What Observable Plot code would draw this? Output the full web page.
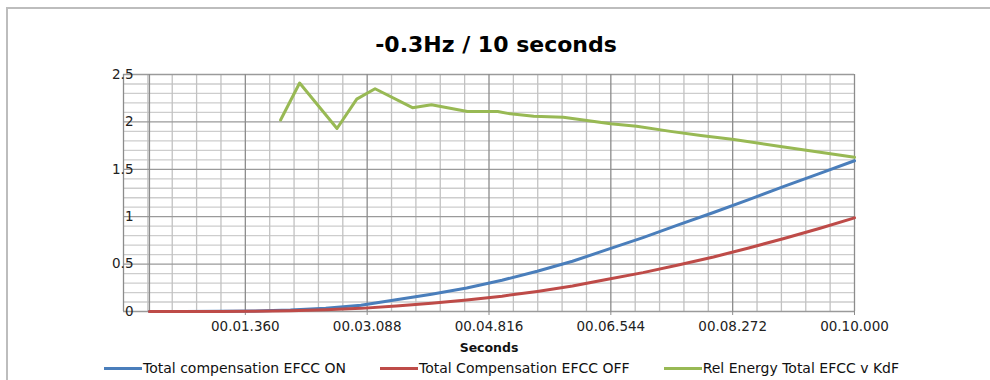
<!DOCTYPE html>
<html>
<head>
<meta charset="utf-8">
<script src="https://cdn.jsdelivr.net/npm/d3@7"></script>
<script src="https://cdn.jsdelivr.net/npm/@observablehq/plot@0.6"></script>
<style>
  html, body { margin: 0; padding: 0; background: #fff; overflow: hidden; }
  body { width: 990px; height: 380px; position: relative; font-family: "DejaVu Sans", sans-serif; }
  #frame { position: absolute; left: 6px; top: 7px; width: 1100px; height: 500px; border: 2px solid #bdbdbd; box-sizing: border-box; }
  #chart { position: absolute; left: 0; top: 0; }
  #title { position: absolute; left: 496px; top: 34px; transform: translateX(-50%); font-size: 22px; line-height: 22px; font-weight: bold; color: #000; white-space: nowrap; }
  #legend { position: absolute; left: 104px; top: 360px; display: flex; gap: 34px; font-size: 14px; line-height: 16px; color: #111; white-space: nowrap; }
  #legend .item { display: flex; align-items: center; }
  #legend .swatch { width: 38px; height: 3px; margin-right: 1px; }
</style>
</head>
<body>
<div id="frame"></div>
<div id="chart"></div>
<div id="title">-0.3Hz / 10 seconds</div>
<div id="legend"></div>
<script>
// Sample times (s) for the two compensation series
const timeS = [0, 0.5, 1, 1.5, 2, 2.5, 3, 3.5, 4, 4.5, 5, 5.5, 6, 6.5, 7, 7.5, 8, 8.5, 9, 9.5, 10];
const efccOn = [0, 0, 0.002, 0.005, 0.015, 0.035, 0.065, 0.125, 0.183, 0.248, 0.33, 0.425, 0.53, 0.655, 0.78, 0.913, 1.044, 1.18, 1.32, 1.455, 1.59];
const efccOff = [0, 0, 0, 0.002, 0.008, 0.018, 0.033, 0.058, 0.087, 0.122, 0.162, 0.212, 0.27, 0.34, 0.41, 0.49, 0.575, 0.67, 0.77, 0.875, 0.988];

// Relative energy ratio, EFCC vs KdF
const relT = [1.86, 2.13, 2.66, 2.94, 3.20, 3.73, 4.00, 4.51, 4.94, 5.08, 5.45, 5.87, 6.36, 6.54, 6.91, 7.39, 7.82, 8.29, 8.95, 10.0];
const relV = [2.02, 2.41, 1.93, 2.24, 2.35, 2.15, 2.18, 2.11, 2.11, 2.09, 2.06, 2.05, 2.00, 1.98, 1.955, 1.90, 1.857, 1.814, 1.74, 1.628];

// Axis setup
const xDomain = [-0.368, 10];
const xTicks = [1.36, 3.088, 4.816, 6.544, 8.272, 10.0];
const xTickLabels = ["00.01.360", "00.03.088", "00.04.816", "00.06.544", "00.08.272", "00.10.000"];
const xMinorStep = 0.3456;
const yTicks = [0, 0.5, 1, 1.5, 2, 2.5];
const yMinorStep = 0.1;

const seriesNames = ["Total compensation EFCC ON", "Total Compensation EFCC OFF", "Rel Energy Total EFCC v KdF"];
const seriesColors = ["#4a7ebb", "#be4b48", "#98b954"];

const rows = [
  ...timeS.map((t, i) => ({t, v: efccOn[i], s: seriesNames[0]})),
  ...timeS.map((t, i) => ({t, v: efccOff[i], s: seriesNames[1]})),
  ...relT.map((t, i) => ({t, v: relV[i], s: seriesNames[2]}))
];

const xMinor = d3.range(1, 31).filter(k => k % 5 !== 0).map(k => xDomain[0] + k * xMinorStep);
const yMinor = d3.range(1, 25).filter(k => k % 5 !== 0).map(k => k * yMinorStep);

const chart = Plot.plot({
  width: 990,
  height: 380,
  marginLeft: 123,
  marginRight: 136,
  marginTop: 74,
  marginBottom: 69,
  style: {fontFamily: "DejaVu Sans, sans-serif", fontSize: "13.5px", color: "#222", background: "transparent"},
  x: {domain: xDomain},
  y: {domain: [0, 2.5]},
  color: {domain: seriesNames, range: seriesColors},
  marks: [
    Plot.ruleY(yMinor, {stroke: "#cdcdcd", strokeWidth: 1.3}),
    Plot.ruleX(xMinor, {stroke: "#c2c2c2", strokeWidth: 1.3}),
    Plot.ruleY(yTicks, {stroke: "#9a9a9a", strokeWidth: 1.3}),
    Plot.ruleX(xTicks, {stroke: "#8c8c8c", strokeWidth: 1.3}),
    Plot.ruleX([0], {stroke: "#8c8c8c", strokeWidth: 1.3}),
    Plot.ruleX([xDomain[0]], {stroke: "#8c8c8c", strokeWidth: 1.3}),
    Plot.axisX({
      ticks: xTicks,
      tickFormat: d => xTickLabels[xTicks.indexOf(d)],
      tickSize: 4,
      tickPadding: 6,
      stroke: "#8c8c8c",
      label: null
    }),
    Plot.axisY({
      ticks: yTicks,
      tickFormat: d => String(d),
      tickSize: 0,
      tickPadding: -10,
      label: null
    }),
    Plot.text(["Seconds"], {frameAnchor: "bottom", dy: 40, fontWeight: "bold", fontSize: 12.5, fill: "#111"}),
    Plot.line(rows, {x: "t", y: "v", z: "s", stroke: "s", strokeWidth: 3, strokeLinejoin: "round", strokeLinecap: "round"})
  ]
});
document.getElementById("chart").appendChild(chart);

// Legend row below the plot
const legend = document.getElementById("legend");
seriesNames.forEach((name, i) => {
  const item = document.createElement("div");
  item.className = "item";
  const sw = document.createElement("span");
  sw.className = "swatch";
  sw.style.background = seriesColors[i];
  const label = document.createElement("span");
  label.textContent = name;
  item.appendChild(sw);
  item.appendChild(label);
  legend.appendChild(item);
});
</script>
</body>
</html>
